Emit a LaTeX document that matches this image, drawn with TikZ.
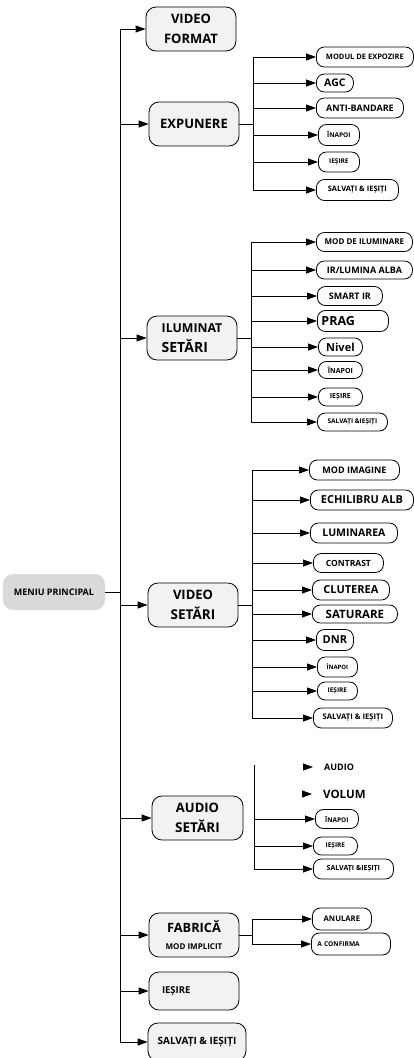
\documentclass[tikz,border=0pt]{standalone}
\usepackage{fontspec}
\setmainfont{Open Sans}
\usetikzlibrary{calc,arrows.meta}

\definecolor{boxgray}{HTML}{F2F2F2}
\definecolor{maingray}{HTML}{D9D9D9}

\tikzset{
    wire/.style={line width=0.8pt},
    arr/.style={wire,-{Triangle[length=10pt,width=7pt]}},
    fs/.style={font=\fontsize{#1}{#1}\selectfont\bfseries},
    two/.style={font=\fontsize{13}{20}\selectfont\bfseries},
    menu/.style={draw,line width=0.8pt,rounded corners=10pt,fill=boxgray,
        minimum width=90pt,minimum height=44pt,align=center},
    leaf/.style={draw,line width=0.8pt,rounded corners=8pt,fill=white,
        anchor=west,minimum height=20pt,inner sep=2pt},
    bare/.style={anchor=west,inner sep=0pt}
}

\begin{document}
\begin{tikzpicture}[x=1pt,y=-1pt]
    \useasboundingbox (0,0) rectangle (413,1058);

    %%% Main menu %%%
    \node[fill=maingray,rounded corners=10pt,minimum width=102pt,minimum height=36pt,fs=9]
        (main) at (54,592) {MENIU PRINCIPAL};
    \coordinate (m) at (120,592);

    %%% First level %%%
    \node[menu,two] (vf) at (191,29) {VIDEO\\FORMAT};
    \node[menu,fs=13] (exp) at (194,124) {EXPUNERE};
    \node[menu,font=\fontsize{12.3}{20}\selectfont\bfseries,align=left] (ilu) at (192,338)
        {ILUMINAT\\{\fontsize{14}{20}\selectfont SETĂRI}};
    \node[menu,two] (vid) at (193,605) {VIDEO\\{\fontsize{13.5}{20}\selectfont SETĂRI}};
    \node[menu,two,minimum width=91pt] (aud) at (197.5,818) {AUDIO\\{\fontsize{13.5}{20}\selectfont SETĂRI}};
    \node[menu,font=\fontsize{12.8}{17}\selectfont\bfseries] (fab) at (194,935)
        {FABRICĂ\\{\fontsize{8}{9}\selectfont MOD IMPLICIT}};
    \node[menu,fs=9.5,minimum height=38pt,text width=64pt,align=left] (ies) at (194,991) {IEȘIRE};
    \node[menu,fs=10,minimum width=98pt,minimum height=38pt] (sav) at (197,1042) {SALVAȚI \& IEȘIȚI};

    \draw[wire] (main.east) -- (m);
    \foreach \n in {vf,exp,ilu,vid,aud,fab,ies,sav}
        \draw[arr] (m) |- (\n.west);

    %%% Expunere %%%
    \node[leaf,fs=7.5,minimum width=97pt] (e1) at (316,57) {MODUL DE EXPOZIRE};
    \node[leaf,fs=10.5,minimum width=37pt,minimum height=18pt] (e2) at (316,83) {AGC};
    \node[leaf,fs=9,minimum width=87pt] (e3) at (316,108) {ANTI-BANDARE};
    \node[leaf,fs=6.5,minimum width=41pt,minimum height=21pt] (e4) at (318,135) {ÎNAPOI};
    \node[leaf,fs=6.5,minimum width=41pt] (e5) at (318,162) {IEȘIRE};
    \node[leaf,fs=7.5,minimum width=82pt,minimum height=21pt] (e6) at (316,190) {SALVAȚI \& IEȘIȚI};

    \coordinate (eb) at ($(exp.east)+(14,0)$);
    \draw[wire] (exp.east) -- (eb);
    \foreach \n in {1,...,6}
        \draw[arr] (eb) |- (e\n.west);

    %%% Iluminat %%%
    \node[leaf,fs=8,minimum width=96pt,minimum height=19pt] (i1) at (316,242) {MOD DE ILUMINARE};
    \node[leaf,fs=9,minimum width=96pt,minimum height=18pt] (i2) at (316,270) {IR/LUMINA ALBA};
    \node[leaf,fs=9,minimum width=65pt,minimum height=19pt] (i3) at (317,296) {SMART IR};
    \node[leaf,fs=12.5,minimum height=21pt,text width=63pt,inner xsep=4pt,align=left] (i4) at (317,321) {PRAG};
    \node[leaf,fs=11,minimum width=44pt,minimum height=18pt] (i5) at (318,347) {Nivel};
    \node[leaf,fs=7,minimum width=44pt,minimum height=17pt] (i6) at (318,370) {ÎNAPOI};
    \node[leaf,fs=7,minimum width=44pt,minimum height=18pt] (i7) at (318,397) {IEȘIRE};
    \node[leaf,fs=6.5,minimum width=70pt,minimum height=18pt] (i8) at (317,422) {SALVAȚI \&IEȘIȚI};

    \coordinate (ib) at ($(ilu.east)+(14,0)$);
    \draw[wire] (ilu.east) -- (ib);
    \foreach \n in {1,...,8}
        \draw[arr] (ib) |- (i\n.west);

    %%% Video setari %%%
    \node[leaf,fs=9,minimum width=90pt] (v1) at (309,470) {MOD IMAGINE};
    \node[leaf,fs=11,minimum width=103pt] (v2) at (310,500) {ECHILIBRU ALB};
    \node[leaf,fs=10.5,minimum width=87pt] (v3) at (310,533) {LUMINAREA};
    \node[leaf,fs=8.5,minimum width=70pt,minimum height=19pt] (v4) at (313,563) {CONTRAST};
    \node[leaf,fs=11,minimum width=77pt] (v5) at (312,590) {CLUTEREA};
    \node[leaf,fs=11.5,minimum width=85pt,minimum height=18pt] (v6) at (312,614) {SATURARE};
    \node[leaf,fs=11,minimum width=37pt,minimum height=21pt] (v7) at (316,640) {DNR};
    \node[leaf,fs=6,minimum width=40pt] (v8) at (317,667) {ÎNAPOI};
    \node[leaf,fs=6.5,minimum width=40pt,minimum height=18pt] (v9) at (317,691) {IEȘIRE};
    \node[leaf,fs=7.7,minimum width=79pt] (v10) at (313,718) {SALVAȚI \& IEȘIȚI};

    \coordinate (vb) at ($(vid.east)+(14,0)$);
    \draw[wire] (vid.east) -- (vb);
    \foreach \n in {1,...,10}
        \draw[arr] (vb) |- (v\n.west);

    %%% Audio setari %%%
    \node[bare,fs=9] (a1) at (324,767) {AUDIO};
    \node[bare,fs=11.5] (a2) at (323,794) {VOLUM};
    \node[leaf,fs=6.5,minimum width=43pt,minimum height=19pt] (a3) at (315,819) {ÎNAPOI};
    \node[leaf,fs=6.5,minimum width=44pt,minimum height=18pt] (a4) at (313,846) {IEȘIRE};
    \node[leaf,fs=7,minimum width=80pt] (a5) at (313,869) {SALVAȚI \&IEȘIȚI};

    \coordinate (ab) at (254,765);
    \foreach \n in {3,4,5}
        \draw[arr] (ab) |- (a\n.west);
    \foreach \n in {1,2}
        \draw[arr] ([xshift=-21pt]a\n.west) -- ([xshift=-11pt]a\n.west);

    %%% Fabrica %%%
    \node[leaf,fs=7.7,minimum width=59pt,minimum height=22pt] (f1) at (312,919) {ANULARE};
    \node[leaf,fs=6.6,minimum height=22pt,text width=67pt,inner xsep=6pt,align=left] (f2) at (311,944) {A CONFIRMA};

    \coordinate (fb) at ($(fab.east)+(13,0)$);
    \draw[wire] (fab.east) -- (fb);
    \foreach \n in {1,2}
        \draw[arr] (fb) |- (f\n.west);

\end{tikzpicture}
\end{document}
